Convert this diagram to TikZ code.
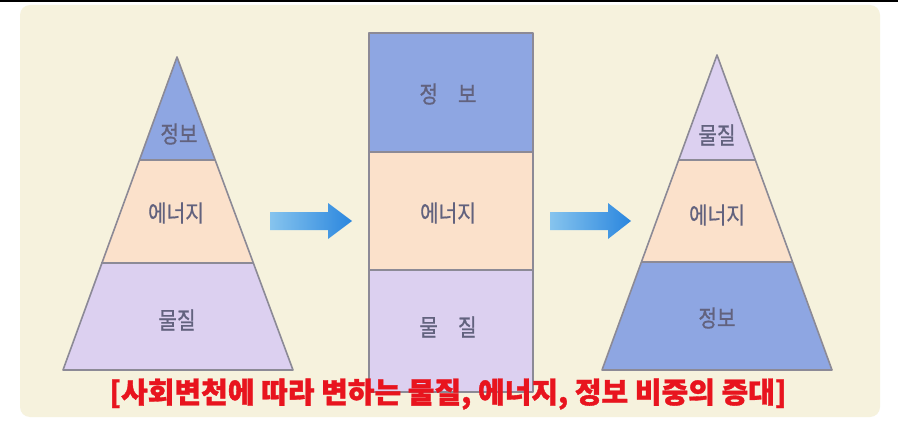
\documentclass[tikz,border=0pt]{standalone}
\usepackage{fontspec}
\newfontfamily\krlab[FakeStretch=0.86,FakeBold=0.6]{Noto Sans CJK KR}
\newfontfamily\krcap[FakeBold=1.2]{Noto Sans CJK KR}
\definecolor{bgcream}{HTML}{F6F2DD}
\definecolor{infoblue}{HTML}{8EA6E2}
\definecolor{enpeach}{HTML}{FBE1CB}
\definecolor{matlav}{HTML}{DCD0F0}
\definecolor{edgegray}{HTML}{8C8A96}
\definecolor{labgray}{HTML}{62627E}
\definecolor{capred}{HTML}{E8141E}
\definecolor{arrlight}{HTML}{86C4EE}
\definecolor{arrdark}{HTML}{2A86DE}
\tikzset{
  layer/.style={draw=edgegray, line width=1.6pt, line join=round},
  lab/.style={font=\krlab\fontsize{23.5}{25}\selectfont, text=labgray, inner sep=0pt},
  caption/.style={font=\krcap\bfseries\fontsize{29}{31}\selectfont, text=capred, inner sep=0pt},
  bigarrow/.style={left color=arrlight, right color=arrdark, draw=none}
}
\begin{document}
\begin{tikzpicture}[x=1pt,y=-1pt]
\useasboundingbox (0,0) rectangle (898,428);
\fill[white] (0,0) rectangle (898,428);
\fill[bgcream, rounded corners=10pt] (20,5) rectangle (880,417);
\fill[black] (0,0) rectangle (898,2);

% left pyramid
\coordinate (LA) at (177,57);
\coordinate (LB1) at (63,370);
\coordinate (LB2) at (293,370);
\fill[infoblue] (177,57) -- (215,160) -- (139,160) -- cycle;
\fill[enpeach] (139,160) -- (215,160) -- (253,263) -- (101,263) -- cycle;
\fill[matlav] (101,263) -- (253,263) -- (293,370) -- (63,370) -- cycle;
\draw[layer] (139,160) -- (215,160);
\draw[layer] (101,263) -- (253,263);
\draw[layer] (LA) -- (LB2) -- (LB1) -- cycle;
\node[lab] (l1) at (179,134) {정보};
\node[lab] (l2) at (176,213) {에너지};
\node[lab] (l3) at (177,320) {물질};

% middle column
\fill[infoblue] (369,33) rectangle (533,152);
\fill[enpeach] (369,152) rectangle (533,270);
\fill[matlav] (369,270) rectangle (533,392);
\draw[layer] (369,152) -- (533,152);
\draw[layer] (369,270) -- (533,270);
\draw[layer] (369,33) rectangle (533,392);
\node[lab] (m1) at (448,94) {정\hspace{20pt}보};
\node[lab] (m2) at (448,213) {에너지};
\node[lab] (m3) at (448,327) {물\hspace{20pt}질};

% right pyramid
\coordinate (RA) at (717,55);
\coordinate (RB1) at (602,370);
\coordinate (RB2) at (832,370);
\fill[matlav] (717,55) -- (755,160) -- (679,160) -- cycle;
\fill[enpeach] (679,160) -- (755,160) -- (792,262) -- (642,262) -- cycle;
\fill[infoblue] (642,262) -- (792,262) -- (832,370) -- (602,370) -- cycle;
\draw[layer] (679,160) -- (755,160);
\draw[layer] (642,262) -- (792,262);
\draw[layer] (RA) -- (RB2) -- (RB1) -- cycle;
\node[lab] (r1) at (717,135) {물질};
\node[lab] (r2) at (717,215) {에너지};
\node[lab] (r3) at (717,318) {정보};

% arrows
\path[bigarrow] (270,212) -- (328,212) -- (328,203) -- (352,221) -- (328,239) -- (328,230) -- (270,230) -- cycle;
\path[bigarrow] (550,212) -- (608,212) -- (608,203) -- (631,221) -- (608,239) -- (608,230) -- (550,230) -- cycle;

% caption
\node[caption] (cap) at (448,394) {[사회변천에 따라 변하는 물질, 에너지, 정보 비중의 증대]};
\end{tikzpicture}
\end{document}
